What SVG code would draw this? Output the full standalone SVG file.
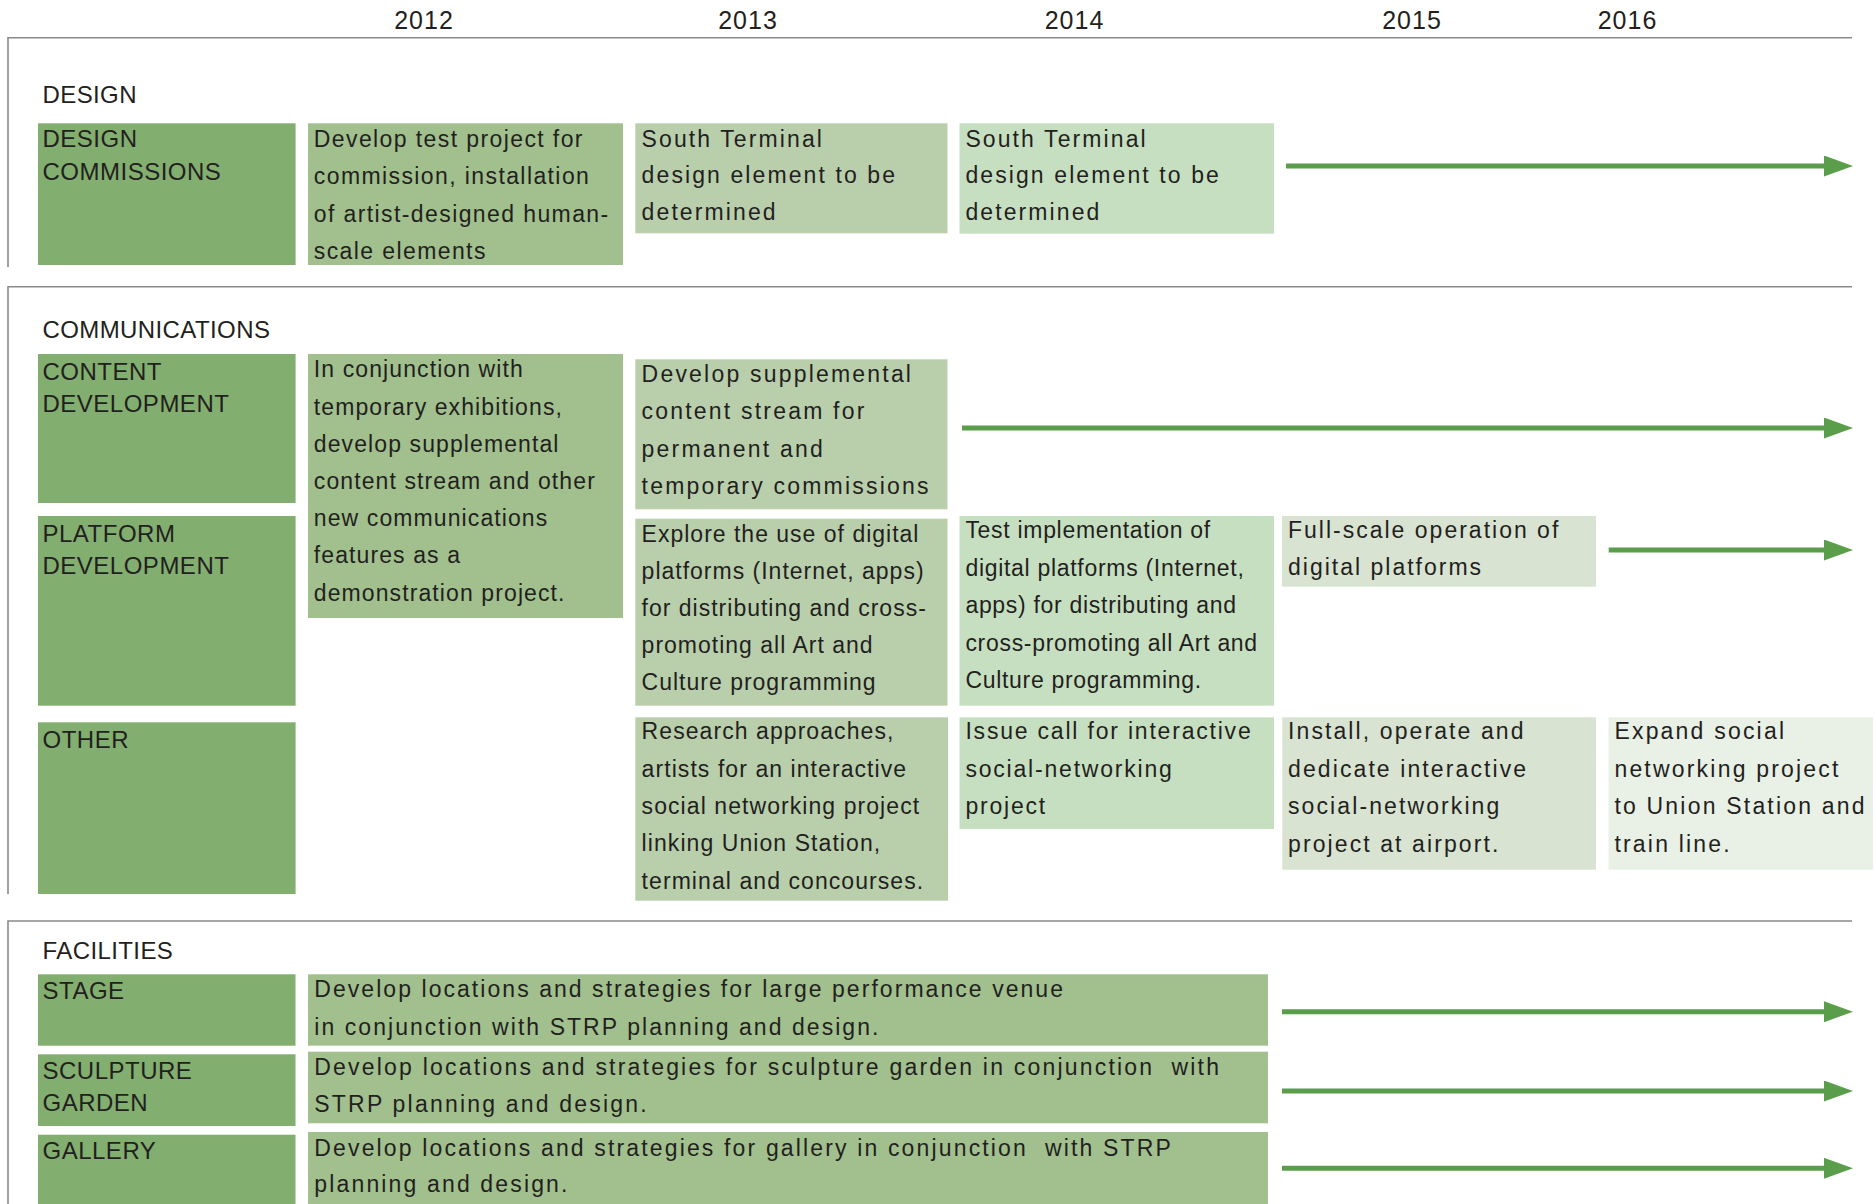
<svg xmlns="http://www.w3.org/2000/svg" width="1875" height="1204" viewBox="0 0 1875 1204">
  <style>
    text { font-family: "Liberation Sans", Arial, sans-serif; fill: #231f20; }
    .year { font-size: 25px; letter-spacing: 1px; text-anchor: middle; }
    .sec { font-size: 24px; letter-spacing: 0.4px; }
    .lbl { font-size: 24px; letter-spacing: 0.5px; }
    .body { font-size: 23px; }
    .rule { stroke: #8a8a8a; stroke-width: 1.6; fill: none; }
    .b-lbl { fill: #82ae6f; }
    .b-y1 { fill: #a1c08d; }
    .b-y2 { fill: #b9cfac; }
    .b-y3 { fill: #c7dfc1; }
    .b-y4 { fill: #d8e3d1; }
    .b-y5 { fill: #e9f0e5; }
    .arrow { stroke: #5a9e4b; stroke-width: 5; fill: none; marker-end: url(#head); }
  </style>
  <defs>
    <marker id="head" markerUnits="userSpaceOnUse" markerWidth="30" markerHeight="22" refX="2" refY="10.5" orient="auto">
      <path d="M0,0 L29,10.5 L0,21 Z" fill="#5a9e4b"/>
    </marker>
  </defs>

  <!-- year scale -->
  <g id="years">
    <text class="year" x="424" y="29.3">2012</text>
    <text class="year" x="748" y="29.3">2013</text>
    <text class="year" x="1074.5" y="29.3">2014</text>
    <text class="year" x="1412" y="29.3">2015</text>
    <text class="year" x="1627.5" y="29.3">2016</text>
  </g>

  <!-- section frames -->
  <g id="frames">
    <path class="rule" d="M8,267 V37.7 H1852"/>
    <path class="rule" d="M8,894 V286.7 H1852"/>
    <path class="rule" d="M8,1204 V921 H1852"/>
  </g>

  <!-- ===== DESIGN ===== -->
  <g id="sec-design">
    <text class="sec" x="42.5" y="103.3">DESIGN</text>
  </g>
  <g id="design-commissions">
    <rect class="b-lbl" x="38" y="123.3" width="257.6" height="141.7"/>
    <text class="lbl"><tspan x="42.5" y="146.7">DESIGN</tspan><tspan x="42.5" y="180">COMMISSIONS</tspan></text>
  </g>
  <g id="design-2012">
    <rect class="b-y1" x="308" y="123.3" width="315" height="141.7"/>
    <text class="body" style="letter-spacing:1.4px">
      <tspan x="313.8" y="146.7">Develop test project for</tspan>
      <tspan x="313.8" y="184.2">commission, installation</tspan>
      <tspan x="313.8" y="221.7">of artist-designed human-</tspan>
      <tspan x="313.8" y="259">scale elements</tspan>
    </text>
  </g>
  <g id="design-2013">
    <rect class="b-y2" x="635.3" y="123.3" width="312.2" height="110"/>
    <text class="body" style="letter-spacing:2.1px">
      <tspan x="641.6" y="146.7">South Terminal</tspan>
      <tspan x="641.6" y="183.3">design element to be</tspan>
      <tspan x="641.6" y="220">determined</tspan>
    </text>
  </g>
  <g id="design-2014">
    <rect class="b-y3" x="959.5" y="123.3" width="314.5" height="110.4"/>
    <text class="body" style="letter-spacing:2.1px">
      <tspan x="965.4" y="146.7">South Terminal</tspan>
      <tspan x="965.4" y="183.3">design element to be</tspan>
      <tspan x="965.4" y="220">determined</tspan>
    </text>
  </g>

  <!-- ===== COMMUNICATIONS ===== -->
  <g id="sec-communications">
    <text class="sec" x="42.5" y="338.3">COMMUNICATIONS</text>
  </g>
  <g id="content-development">
    <rect class="b-lbl" x="38" y="354" width="257.6" height="149"/>
    <text class="lbl"><tspan x="42.5" y="380">CONTENT</tspan><tspan x="42.5" y="411.7">DEVELOPMENT</tspan></text>
  </g>
  <g id="platform-development">
    <rect class="b-lbl" x="38" y="516" width="257.6" height="189.7"/>
    <text class="lbl"><tspan x="42.5" y="542.3">PLATFORM</tspan><tspan x="42.5" y="574.3">DEVELOPMENT</tspan></text>
  </g>
  <g id="other">
    <rect class="b-lbl" x="38" y="722.3" width="257.6" height="171.7"/>
    <text class="lbl"><tspan x="42.5" y="747.7">OTHER</tspan></text>
  </g>
  <g id="communications-2012">
    <rect class="b-y1" x="308" y="354" width="315" height="264"/>
    <text class="body" style="letter-spacing:1.1px">
      <tspan x="313.8" y="377.3">In conjunction with</tspan>
      <tspan x="313.8" y="414.5">temporary exhibitions,</tspan>
      <tspan x="313.8" y="451.7">develop supplemental</tspan>
      <tspan x="313.8" y="488.9">content stream and other</tspan>
      <tspan x="313.8" y="526.1">new communications</tspan>
      <tspan x="313.8" y="563.3">features as a</tspan>
      <tspan x="313.8" y="600.5">demonstration project.</tspan>
    </text>
  </g>
  <g id="content-2013">
    <rect class="b-y2" x="635.3" y="359.3" width="312.2" height="150"/>
    <text class="body" style="letter-spacing:2.2px">
      <tspan x="641.6" y="381.7">Develop supplemental</tspan>
      <tspan x="641.6" y="419.2">content stream for</tspan>
      <tspan x="641.6" y="456.7">permanent and</tspan>
      <tspan x="641.6" y="493.5">temporary commissions</tspan>
    </text>
  </g>
  <g id="platform-2013">
    <rect class="b-y2" x="635.3" y="518.7" width="312.2" height="187"/>
    <text class="body" style="letter-spacing:1px">
      <tspan x="641.6" y="541.7">Explore the use of  digital</tspan>
      <tspan x="641.6" y="578.6">platforms (Internet, apps)</tspan>
      <tspan x="641.6" y="615.6">for distributing and cross-</tspan>
      <tspan x="641.6" y="652.8">promoting all Art and</tspan>
      <tspan x="641.6" y="690">Culture programming</tspan>
    </text>
  </g>
  <g id="platform-2014">
    <rect class="b-y3" x="959.5" y="516" width="314.5" height="189.7"/>
    <text class="body" style="letter-spacing:0.7px">
      <tspan x="965.4" y="538.3">Test implementation of</tspan>
      <tspan x="965.4" y="575.8">digital platforms (Internet,</tspan>
      <tspan x="965.4" y="613.3">apps) for distributing and</tspan>
      <tspan x="965.4" y="650.8">cross-promoting all Art and</tspan>
      <tspan x="965.4" y="688.3">Culture programming.</tspan>
    </text>
  </g>
  <g id="platform-2015">
    <rect class="b-y4" x="1282" y="516" width="314" height="70.7"/>
    <text class="body" style="letter-spacing:2px">
      <tspan x="1288" y="538.3">Full-scale operation of</tspan>
      <tspan x="1288" y="575">digital platforms</tspan>
    </text>
  </g>
  <g id="other-2013">
    <rect class="b-y2" x="635.3" y="717.3" width="312.7" height="183.4"/>
    <text class="body" style="letter-spacing:1.07px">
      <tspan x="641.6" y="739.3">Research approaches,</tspan>
      <tspan x="641.6" y="776.6">artists for an interactive</tspan>
      <tspan x="641.6" y="813.9">social networking project</tspan>
      <tspan x="641.6" y="851.2">linking Union Station,</tspan>
      <tspan x="641.6" y="888.5">terminal and concourses.</tspan>
    </text>
  </g>
  <g id="other-2014">
    <rect class="b-y3" x="959.5" y="717.3" width="314.5" height="111.7"/>
    <text class="body" style="letter-spacing:1.8px">
      <tspan x="965.4" y="739.3">Issue call for interactive</tspan>
      <tspan x="965.4" y="776.7">social-networking</tspan>
      <tspan x="965.4" y="814">project</tspan>
    </text>
  </g>
  <g id="other-2015">
    <rect class="b-y4" x="1282.3" y="717.3" width="313.7" height="152.4"/>
    <text class="body" style="letter-spacing:2.1px">
      <tspan x="1288" y="739.3">Install, operate and</tspan>
      <tspan x="1288" y="776.7">dedicate interactive</tspan>
      <tspan x="1288" y="814">social-networking</tspan>
      <tspan x="1288" y="851.5">project at airport.</tspan>
    </text>
  </g>
  <g id="other-2016">
    <rect class="b-y5" x="1608.5" y="717.3" width="264.5" height="152.4"/>
    <text class="body" style="letter-spacing:2.2px">
      <tspan x="1614.4" y="739.3">Expand social</tspan>
      <tspan x="1614.4" y="776.7">networking project</tspan>
      <tspan x="1614.4" y="814">to Union Station and</tspan>
      <tspan x="1614.4" y="851.5">train line.</tspan>
    </text>
  </g>

  <!-- ===== FACILITIES ===== -->
  <g id="sec-facilities">
    <text class="sec" x="42.5" y="959">FACILITIES</text>
  </g>
  <g id="stage">
    <rect class="b-lbl" x="38" y="974.3" width="257.5" height="71.4"/>
    <text class="lbl"><tspan x="42.5" y="999.3">STAGE</tspan></text>
  </g>
  <g id="sculpture-garden">
    <rect class="b-lbl" x="38" y="1054.3" width="257.5" height="71.7"/>
    <text class="lbl"><tspan x="42.5" y="1079">SCULPTURE</tspan><tspan x="42.5" y="1111">GARDEN</tspan></text>
  </g>
  <g id="gallery">
    <rect class="b-lbl" x="38" y="1134.7" width="257.5" height="69.3"/>
    <text class="lbl"><tspan x="42.5" y="1159">GALLERY</tspan></text>
  </g>
  <g id="stage-plan">
    <rect class="b-y1" x="308" y="974.3" width="960" height="71.4"/>
    <text class="body" style="letter-spacing:2.05px">
      <tspan x="314.3" y="997.3">Develop locations and strategies for large performance venue</tspan>
      <tspan x="314.3" y="1035">in conjunction with STRP planning and design.</tspan>
    </text>
  </g>
  <g id="sculpture-garden-plan">
    <rect class="b-y1" x="308" y="1051.7" width="960" height="71.6"/>
    <text class="body" style="letter-spacing:2.2px;white-space:pre"><tspan x="314.3" y="1075">Develop locations and strategies for sculpture garden in conjunction  with</tspan><tspan x="314.3" y="1111.7">STRP planning and design.</tspan></text>
  </g>
  <g id="gallery-plan">
    <rect class="b-y1" x="308" y="1132" width="960" height="72"/>
    <text class="body" style="letter-spacing:2.15px;white-space:pre"><tspan x="314.3" y="1155.7">Develop locations and strategies for gallery in conjunction  with STRP</tspan><tspan x="314.3" y="1191.7">planning and design.</tspan></text>
  </g>

  <!-- continuation arrows -->
  <g id="connectors">
    <line class="arrow" x1="1286" y1="166" x2="1826" y2="166"/>
    <line class="arrow" x1="962" y1="428" x2="1826" y2="428"/>
    <line class="arrow" x1="1608.7" y1="550" x2="1826" y2="550"/>
    <line class="arrow" x1="1282" y1="1011.7" x2="1826" y2="1011.7"/>
    <line class="arrow" x1="1282" y1="1091" x2="1826" y2="1091"/>
    <line class="arrow" x1="1282" y1="1168.3" x2="1826" y2="1168.3"/>
  </g>
</svg>
